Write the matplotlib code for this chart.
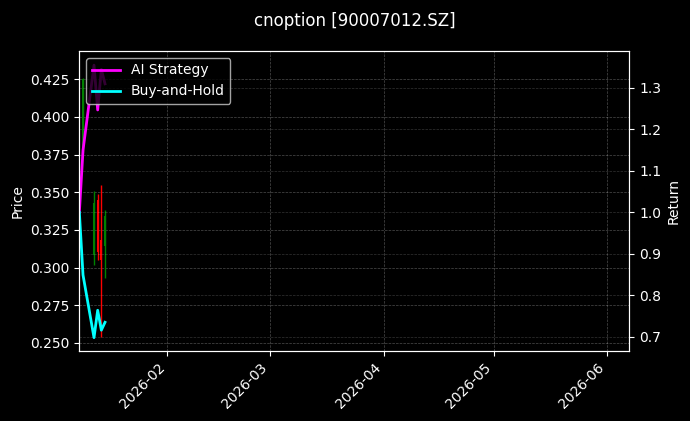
import matplotlib
matplotlib.use("Agg")
import matplotlib.pyplot as plt
import matplotlib.dates as mdates
import pandas as pd

# candle data (daily)
candle_dates = pd.to_datetime(["2026-01-09", "2026-01-12", "2026-01-13",
                               "2026-01-14", "2026-01-15"])
opens = [0.380, 0.308, 0.345, 0.318, 0.314]
highs = [0.426, 0.351, 0.349, 0.355, 0.338]
lows = [0.376, 0.302, 0.305, 0.2536, 0.293]
closes = [0.425, 0.343, 0.310, 0.305, 0.334]

# equity curves
ret_dates = pd.to_datetime(["2026-01-08", "2026-01-09", "2026-01-12",
                            "2026-01-13", "2026-01-14", "2026-01-15"])
ai_strategy = [1.0, 1.15, 1.355, 1.247, 1.345, 1.31]
buy_hold = [1.0, 0.849, 0.698, 0.764, 0.716, 0.735]

plt.style.use("dark_background")
fig, ax = plt.subplots(figsize=(6.9, 4.21), dpi=100)
fig.subplots_adjust(left=0.115, right=0.912, bottom=0.166, top=0.879)

for d, o, h, l, c in zip(candle_dates, opens, highs, lows, closes):
    col = "green" if c >= o else "red"
    ax.vlines(d, l, h, color=col, linewidth=1.0)
    ax.vlines(d, min(o, c), max(o, c), color=col, linewidth=1.5)

ax.set_ylabel("Price")
ax.set_ylim(0.2445, 0.4438)
ax.grid(True, linestyle="--", linewidth=0.5, alpha=0.3)

ax2 = ax.twinx()
ax2.plot(ret_dates, ai_strategy, color="#FF00FF", linewidth=2, label="AI Strategy")
ax2.plot(ret_dates, buy_hold, color="#00FFFF", linewidth=2, label="Buy-and-Hold")
ax2.set_ylabel("Return")
ax2.set_ylim(0.6655, 1.3893)
ax2.grid(True, linestyle="--", linewidth=0.5, alpha=0.2)
ax2.legend(loc="upper left")

ax.set_xlim(pd.Timestamp("2026-01-08"), pd.Timestamp("2026-06-07"))
ax.xaxis.set_major_locator(mdates.MonthLocator())
ax.xaxis.set_major_formatter(mdates.DateFormatter("%Y-%m"))
plt.setp(ax.get_xticklabels(), rotation=45, ha="right")

ax.set_title("cnoption [90007012.SZ]", fontsize=12, pad=18)

fig.savefig("out.png", dpi=100)
